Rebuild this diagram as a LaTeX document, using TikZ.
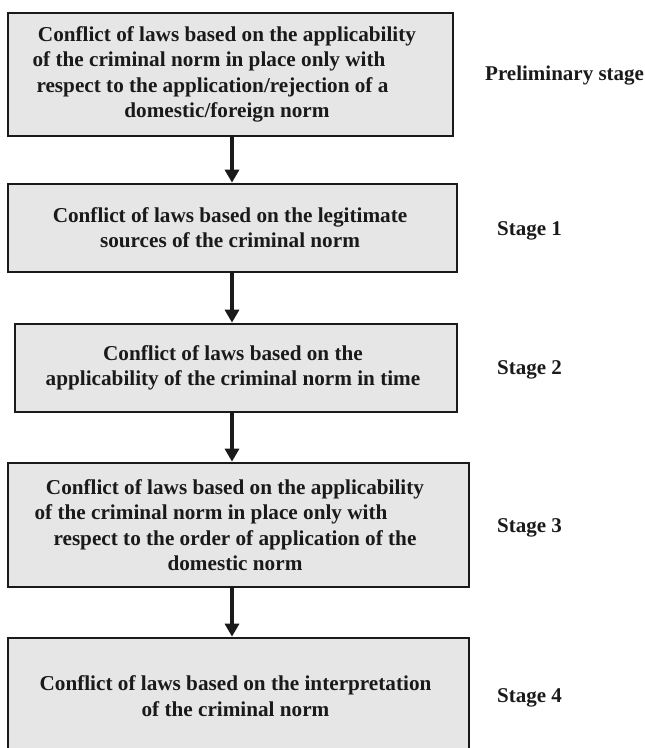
\documentclass[tikz,border=0pt]{standalone}
\usepackage{fontspec}
\setmainfont{Liberation Serif}
\usetikzlibrary{arrows.meta}
\definecolor{boxfill}{HTML}{E5E6E5}
\definecolor{ink}{HTML}{1A1A1A}
% invisible trailing space that keeps a centred line off-centre
\newcommand{\trail}[1]{\rule{#1}{0pt}}
\begin{document}
\begin{tikzpicture}[x=1pt,y=-1pt,
  box/.style={draw=ink, fill=boxfill, line width=2.7pt, inner sep=0pt},
  boxtext/.style={text=ink, align=center, inner sep=0pt,
    font=\fontsize{21.2pt}{25.3pt}\selectfont\bfseries},
  stagelabel/.style={text=ink, anchor=base west, inner sep=0pt,
    font=\fontsize{21pt}{25.3pt}\selectfont\bfseries},
  flow/.style={draw=ink, line width=3.2pt,
    -{Triangle[length=13pt,width=14pt]}}]
\useasboundingbox (0,0) rectangle (645,748);
\clip (0,0) rectangle (645,748);

% stage boxes
\node[box, minimum width=445pt, minimum height=123pt] (b1) at (230.5,74.5) {};
\node[box, minimum width=449pt, minimum height=88pt]  (b2) at (232.5,228) {};
\node[box, minimum width=442pt, minimum height=88pt]  (b3) at (236,368) {};
\node[box, minimum width=461pt, minimum height=124pt] (b4) at (238.5,525) {};
\node[box, minimum width=461pt, minimum height=116pt] (b5) at (238.5,696) {};

% box captions
\node[boxtext] (t1) at ([xshift=-3.5pt]b1.center)
  {Conflict of laws based on the applicability\\
   of the criminal norm in place only with\trail{36pt}\\
   respect to the application/rejection of a\trail{29pt}\\
   domestic/foreign norm};
\node[boxtext] (t2) at ([xshift=-2.5pt]b2.center)
  {Conflict of laws based on the legitimate\\
   sources of the criminal norm};
\node[boxtext] (t3) at ([xshift=-3pt]b3.center)
  {Conflict of laws based on the\\
   applicability of the criminal norm in time};
\node[boxtext] (t4) at ([xshift=-3.5pt]b4.center)
  {Conflict of laws based on the applicability\\
   of the criminal norm in place only with\trail{48pt}\\
   respect to the order of application of the\\
   domestic norm};
\node[boxtext] (t5) at ([xshift=-3pt]b5.center)
  {Conflict of laws based on the interpretation\\
   of the criminal norm};

% stage names
\node[stagelabel] (s0) at (485,80) {Preliminary stage};
\node[stagelabel] (s1) at (497,235) {Stage 1};
\node[stagelabel] (s2) at (497,374) {Stage 2};
\node[stagelabel] (s3) at (497,532) {Stage 3};
\node[stagelabel] (s4) at (497,702) {Stage 4};

% connectors
\coordinate (ax) at (232,0);
\draw[flow] (b1.south -| ax) -- (b2.north -| ax);
\draw[flow] (b2.south -| ax) -- (b3.north -| ax);
\draw[flow] (b3.south -| ax) -- (b4.north -| ax);
\draw[flow] (b4.south -| ax) -- (b5.north -| ax);
\end{tikzpicture}
\end{document}
